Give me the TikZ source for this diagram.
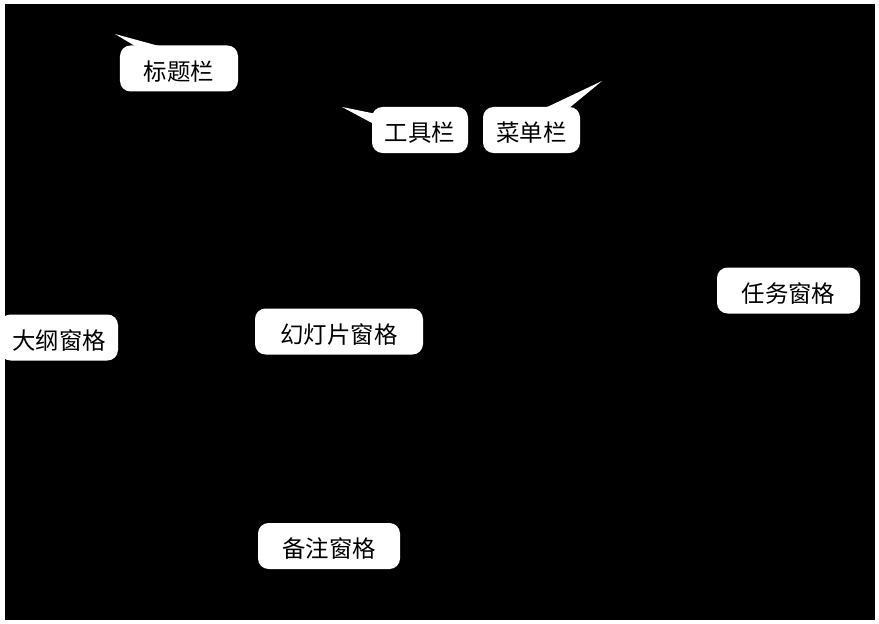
\documentclass[tikz,border=0pt]{standalone}
\usepackage{fontspec}
\newfontfamily\cjk{Noto Sans CJK SC}
\usetikzlibrary{calc}

\begin{document}
\begin{tikzpicture}[x=0.03cm,y=-0.03cm]
  \tikzstyle{label box}=[fill=white,rounded corners=9pt,inner sep=0pt,
                         minimum height=1.38cm,text=black,
                         text height=21pt,text depth=1pt,
                         font=\cjk\fontsize{20}{24}\selectfont]
  \tikzstyle{pointer}=[fill=white]

  \useasboundingbox (0,0) rectangle (879,624);
  \fill[black] (5,4) rectangle (875,620);

  \node[label box,minimum width=3.54cm] (title)   at (179,68.5)  {标题栏};
  \node[label box,minimum width=2.88cm] (tools)   at (420,130)   {工具栏};
  \node[label box,minimum width=2.91cm] (menu)    at (531.5,130) {菜单栏};
  \node[label box,minimum width=3.54cm] (outline) at (59,337.5)  {大纲窗格};
  \node[label box,minimum width=5.04cm] (slide)   at (339,331.5) {幻灯片窗格};
  \node[label box,minimum width=4.29cm] (task)    at (788.5,290.5) {任务窗格};
  \node[label box,minimum width=4.26cm] (notes)   at (329,546)   {备注窗格};

  \coordinate (title tip) at (115,34);
  \coordinate (tools tip) at (342,107);
  \coordinate (menu tip)  at (602,81);

  \path[pointer] (title tip) -- ([xshift=0.54cm,yshift=-2pt]title.north west)
                 -- ([xshift=1.35cm,yshift=-2pt]title.north west) -- cycle;
  \path[pointer] (tools tip) -- ([xshift=3pt,yshift=-0.21cm]tools.north west)
                 -- ([xshift=3pt,yshift=-0.54cm]tools.north west) -- cycle;
  \path[pointer] (menu tip) -- ([xshift=1.8cm,yshift=-2pt]menu.north west)
                 -- ([xshift=2.55cm,yshift=-2pt]menu.north west) -- cycle;
\end{tikzpicture}
\end{document}
